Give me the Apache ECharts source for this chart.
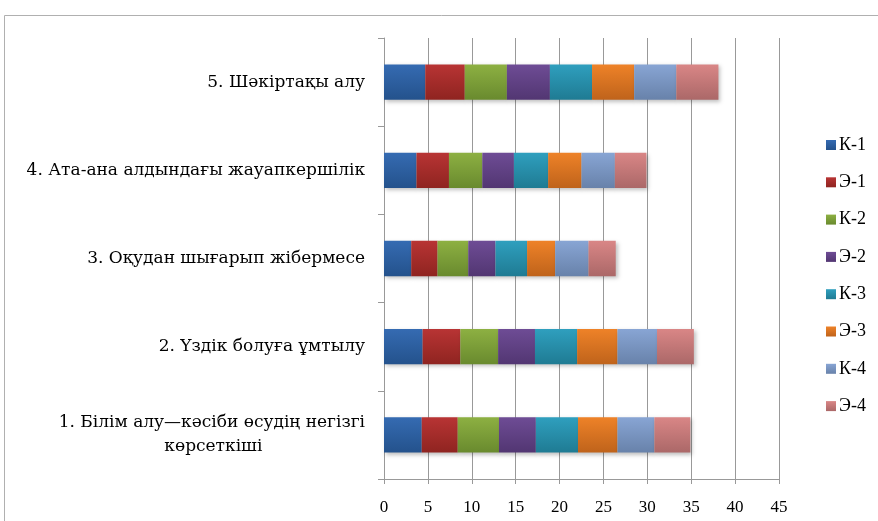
<!DOCTYPE html>
<html>
<head>
<meta charset="utf-8">
<style>
  html, body { margin: 0; padding: 0; background: #fff; }
  #chart { width: 878px; height: 521px; }
</style>
<script src="https://cdn.jsdelivr.net/npm/echarts@6/dist/echarts.min.js"></script>
</head>
<body>
<div id="chart"></div>
<script>
  // categories bottom -> top
  const categories = [
    '1. Білім алу—кәсіби өсудің негізгі\nкөрсеткіші',
    '2. Үздік болуға ұмтылу',
    '3. Оқудан шығарып жібермесе',
    '4. Ата-ана алдындағы жауапкершілік',
    '5. Шәкіртақы алу',
  ]
  const seriesNames = ['К-1', 'Э-1', 'К-2', 'Э-2', 'К-3', 'Э-3', 'К-4', 'Э-4']

  const k1 = [4.3, 4.4, 3.1, 3.7, 4.7]
  const e1 = [4.1, 4.3, 3.0, 3.7, 4.5]
  const k2 = [4.7, 4.3, 3.5, 3.8, 4.8]
  const e2 = [4.2, 4.2, 3.1, 3.6, 4.9]
  const k3 = [4.8, 4.8, 3.6, 3.9, 4.8]
  const e3 = [4.5, 4.6, 3.2, 3.8, 4.8]
  const k4 = [4.2, 4.5, 3.8, 3.8, 4.8]
  const e4 = [4.1, 4.2, 3.1, 3.6, 4.8]
  const values = [k1, e1, k2, e2, k3, e3, k4, e4]

  const xTicks = [0, 5, 10, 15, 20, 25, 30, 35, 40, 45]

  const colors = [
    ['#356BB2', '#24528C'],
    ['#B83434', '#8F2420'],
    ['#8DB042', '#698A2E'],
    ['#6E4C95', '#523672'],
    ['#2F9FBE', '#1F7B93'],
    ['#EE8228', '#BF631B'],
    ['#88A5D4', '#6882AA'],
    ['#D98686', '#AB6868'],
  ]

  const font = 'Liberation Serif'
  const catFont = 'DejaVu Serif'
  const chart = echarts.init(document.getElementById('chart'))

  // the wrapped second line sits centred under the first one in the original
  const catLabel = v => {
    const parts = v.split('\n')
    if (parts.length < 2) return v
    return parts[0] + '\n' + parts[1] + '\u00A0'.repeat(19)
  }

  chart.setOption({
    animation: false,
    grid: { left: 384, right: 99, top: 38, bottom: 42 },
    graphic: [
      {
        type: 'rect',
        shape: { x: 4.5, y: 15.5, width: 900, height: 600 },
        style: { fill: 'none', stroke: '#b0b0b0', lineWidth: 1 },
        silent: true,
      },
    ],
    legend: {
      orient: 'vertical',
      left: 821,
      top: 131,
      itemWidth: 10,
      itemHeight: 10,
      itemGap: 19.3,
      icon: 'rect',
      textStyle: { fontFamily: font, fontSize: 18, color: '#000', lineHeight: 16, padding: [0, 0, 0, -2] },
      data: seriesNames,
    },
    xAxis: {
      type: 'value',
      min: 0,
      max: 45,
      interval: 5,
      axisLine: { show: true, lineStyle: { color: '#999', width: 1 } },
      axisTick: { show: true, length: 5, lineStyle: { color: '#999' } },
      splitLine: { show: true, lineStyle: { color: '#999', width: 1 } },
      axisLabel: {
        fontFamily: font,
        fontSize: 17,
        color: '#000',
        margin: 20,
        formatter: v => (xTicks.includes(v) ? String(v) : ''),
      },
    },
    yAxis: {
      type: 'category',
      data: categories,
      axisLine: { show: true, lineStyle: { color: '#999' } },
      axisTick: { show: true, length: 6, lineStyle: { color: '#999' } },
      axisLabel: {
        fontFamily: catFont,
        fontSize: 17,
        color: '#000',
        margin: 19,
        lineHeight: 24,
        align: 'right',
        formatter: catLabel,
      },
    },
    series: seriesNames.map((name, i) => ({
      name,
      type: 'bar',
      stack: 'total',
      barCategoryGap: '60%',
      data: values[i],
      itemStyle: {
        color: new echarts.graphic.LinearGradient(0, 0, 0, 1, [
          { offset: 0, color: colors[i][0] },
          { offset: 1, color: colors[i][1] },
        ]),
        shadowColor: 'rgba(0,0,0,0.25)',
        shadowBlur: 4,
        shadowOffsetX: 2,
        shadowOffsetY: 2,
      },
    })),
  })
</script>
</body>
</html>
